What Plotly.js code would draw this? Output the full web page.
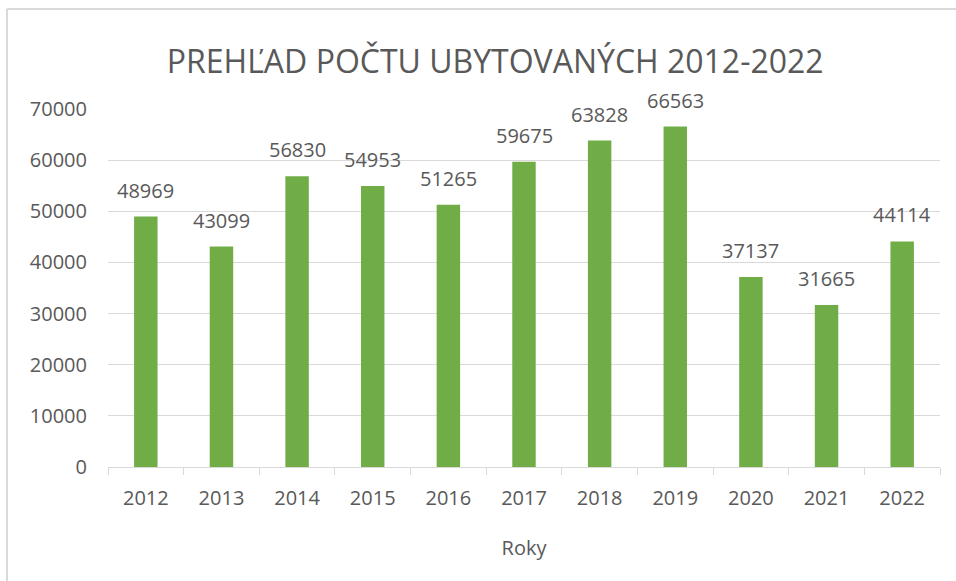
<!DOCTYPE html>
<html>
<head>
<meta charset="utf-8">
<script src="https://cdn.plot.ly/plotly-3.0.1.min.js"></script>
<style>
html,body{margin:0;padding:0;background:#fff;}
#chart{width:956px;height:581px;}
</style>
</head>
<body>
<div id="chart"></div>
<script>
const years = ["2012","2013","2014","2015","2016","2017","2018","2019","2020","2021","2022"];
const guests = [48969, 43099, 56830, 54953, 51265, 59675, 63828, 66563, 37137, 31665, 44114];
const chartTitle = "PREHĽAD POČTU UBYTOVANÝCH 2012-2022";
const xTitle = "Roky";

const font = "Open Sans, Noto Sans, sans-serif";
const grey = "#595959";

const trace = {
  type: "bar",
  x: years,
  y: guests,
  marker: {color: "#70ad47"},
  cliponaxis: false,
  hoverinfo: "x+y"
};

// data labels placed at each bar's category index
const labels = years.map((yr, i) => ({
  x: i, y: guests[i], xref: "x", yref: "y",
  text: String(guests[i]),
  showarrow: false,
  yanchor: "bottom",
  yshift: 11,
  font: {family: font, size: 20, color: grey}
}));

const layout = {
  width: 956,
  height: 581,
  margin: {l: 108, r: 16, t: 109, b: 114},
  paper_bgcolor: "#ffffff",
  plot_bgcolor: "#ffffff",
  showlegend: false,
  bargap: 0.69,
  title: {
    text: chartTitle,
    font: {family: font, size: 32, color: grey},
    xref: "container", x: 0.518, xanchor: "center",
    yref: "container", y: 1 - 62/581, yanchor: "middle"
  },
  xaxis: {
    type: "category",
    categoryorder: "array",
    categoryarray: years,
    range: [-0.5, years.length - 0.5],
    tickson: "boundaries",
    ticks: "outside",
    ticklen: 7,
    tickcolor: "#d9d9d9",
    showline: true,
    linecolor: "#d9d9d9",
    linewidth: 1,
    showgrid: false,
    tickangle: 0,
    ticklabelstandoff: 13,
    tickfont: {family: font, size: 20, color: grey},
    title: {text: xTitle, font: {family: font, size: 20, color: grey}, standoff: 30}
  },
  yaxis: {
    range: [0, 70000],
    dtick: 10000,
    tick0: 0,
    showgrid: true,
    gridcolor: "#d9d9d9",
    gridwidth: 1,
    zeroline: false,
    showline: false,
    ticks: "",
    ticklabelstandoff: 20,
    tickformat: "d",
    tickfont: {family: font, size: 20, color: grey}
  },
  annotations: labels,
  shapes: [
    {type: "line", xref: "paper", yref: "paper",
     x0: (7-108)/832, x1: (7-108)/832, y0: (467-581)/358, y1: (467-9)/358,
     line: {color: "#d9d9d9", width: 2}},
    {type: "line", xref: "paper", yref: "paper",
     x0: (7-108)/832, x1: (956-108)/832, y0: (467-9)/358, y1: (467-9)/358,
     line: {color: "#d9d9d9", width: 2}}
  ]
};

Plotly.newPlot("chart", [trace], layout, {displayModeBar: false, staticPlot: true});
</script>
</body>
</html>
